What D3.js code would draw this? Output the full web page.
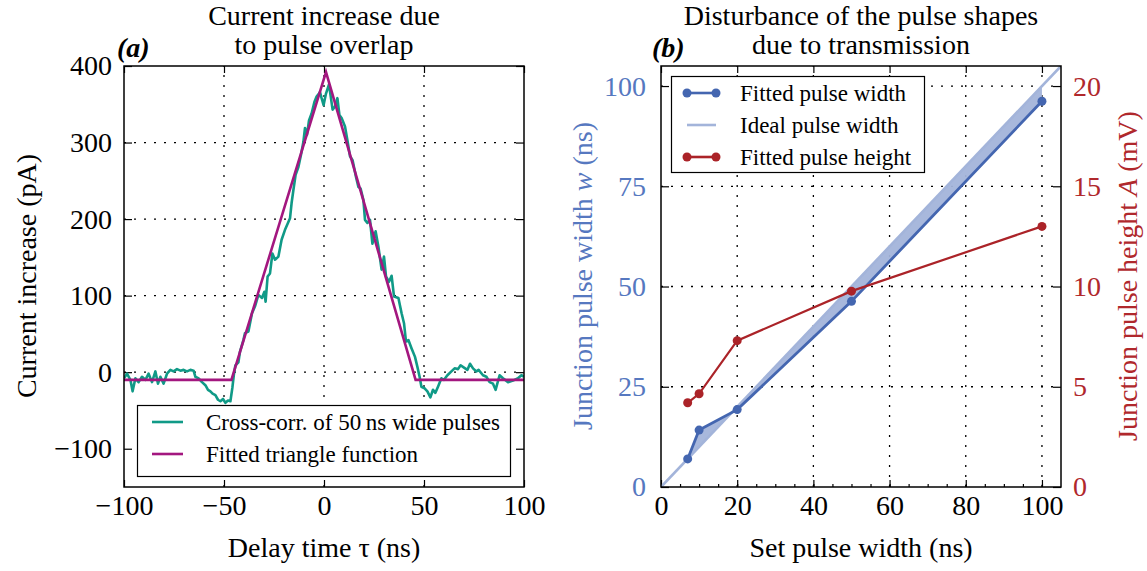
<!DOCTYPE html>
<html>
<head>
<meta charset="utf-8">
<script src="https://cdn.jsdelivr.net/npm/d3@7/dist/d3.min.js"></script>
<style>
  body { margin: 0; background: #fff; }
  svg { display: block; }
  text { font-family: "Liberation Serif", "Times New Roman", serif; }
</style>
</head>
<body>
<svg id="vis"></svg>
<script>
const WIDTH = 1147;
const HEIGHT = 571;
const FONT = 28;      // titles, axis labels, ticks
const LEGFONT = 23;   // legend entries

// panel (a): cross-correlation trace
var tauNs = [-100, -98.5, -96.8, -95.7, -94.3, -92.7, -91, -89.3, -87.7, -86, -84.3, -83, -81.8, -80.2,
    -78.5, -76.8, -75.2, -73.5, -71.8, -70.2, -68.5, -66.8, -65.2, -64.3, -62.7, -61, -59.3, -58, -56.8,
    -55.7, -54.3, -53, -51.8, -50.5, -49.3, -48, -46.8, -45.8, -45, -44.3, -42.8, -42, -40.3, -39.5, -37.8,
    -36, -34.5, -32.8, -31, -29.8, -29.2, -28.2, -27, -25.8, -24.5, -22.8, -21.2, -19.5, -17, -16.2, -15.3,
    -14.2, -12.8, -11.5, -10.3, -9.5, -8.5, -7.5, -6.2, -4.8, -3.7, -2.5, -2, -1.2, -0.2, 1, 2.5, 4.3, 5.5,
    6.7, 7.7, 8.8, 10.5, 11.7, 13, 14.3, 16, 17.2, 18.3, 19.7, 20.5, 21.7, 23, 24.2, 25.8, 27.2, 28.8, 30,
    31, 32.5, 33.8, 35, 37.2, 38.8, 40, 41, 42.2, 43.8, 45.5, 46.7, 47.8, 48.7, 50.3, 51.7, 53.2, 54.5,
    55.7, 57, 58.7, 60, 61.7, 63.7, 65.3, 67, 68.3, 70, 71.7, 73, 74.5, 76.2, 77.3, 79.5, 81.2, 82.8, 84.5,
    85.8, 87.8, 89.5, 92, 94.5, 97, 98.7, 100];
var crossCorr = [-8, -2, -10, -25, -8, -13, -6, -10, -2, -13, 1, -15, -6, -15,
    -2, 3, 1, 4, 2, 3, 1, 3, 2, -6, -8, -13, -17, -23, -25,
    -28, -30, -36, -38, -35, -40, -37, -38, -20, -2, 9, 13, 27, 42, 51, 53,
    77, 86, 101, 97, 105, 92, 125, 129, 155, 147, 151, 173, 186, 201, 221, 238,
    258, 268, 284, 301, 319, 310, 329, 338, 353, 360, 364, 366, 358, 349, 364, 376, 343, 347,
    358, 336, 332, 321, 303, 282, 277, 255, 242, 240, 225, 199, 195, 199, 168, 184, 164, 134, 151,
    125, 118, 126, 99, 97, 77, 64, 40, 42, 31, 20, 7, -6, -19, -21, -25, -33, -23,
    -27, -19, -8, -10, -4, 1, 5, 4, 9, 6, 3, 11, 5, 1, 3, -4, -6, -13, -15,
    -23, -4, -8, -13, -11, -8, -4, -6];

// fitted triangle corners
var triTau = [-100, -46.3, 1, 45.8, 100];
var triCurrent = [-10, -10, 392, -10, -10];

// panel (b)
var setWidth = [7, 10, 20, 50, 100];
var fittedWidth = [7, 14.2, 19.3, 46.3, 96.2];
var fittedHeight = [4.2, 4.65, 7.3, 9.77, 13.0];
var idealWidth = [0, 105];

var aXTicks = [-100, -50, 0, 50, 100];
var aYTicks = [-100, 0, 100, 200, 300, 400];
var bXTicks = [0, 20, 40, 60, 80, 100];
var bYTicks = [0, 25, 50, 75, 100];
var bY2Ticks = [0, 5, 10, 15, 20];

const TEAL = "#109a87";
const MAGENTA = "#a3177f";
const BLUE = "#4466b0";
const LIGHTBLUE = "#a3b4da";
const RED = "#ab2328";
const BLUETEXT = "#5678c0";
const REDTEXT = "#b0282c";

function fmt(d) { return d < 0 ? "\u2212" + Math.abs(d) : String(d); }

let svg = d3.select("#vis").attr("width", WIDTH).attr("height", HEIGHT);

function grid(g, x, y, xs, ys) {
    let x0 = x.range()[0], x1 = x.range()[1], y0 = y.range()[0], y1 = y.range()[1];
    xs.forEach(function(v) {
        g.append("line").attr("x1", x(v)).attr("x2", x(v)).attr("y1", y0).attr("y2", y1)
            .attr("stroke", "#000").attr("stroke-width", 1.3).attr("stroke-dasharray", "2,8");
    });
    ys.forEach(function(v) {
        g.append("line").attr("x1", x0).attr("x2", x1).attr("y1", y(v)).attr("y2", y(v))
            .attr("stroke", "#000").attr("stroke-width", 1.3).attr("stroke-dasharray", "2,8");
    });
}

function styleAxis(g, color) {
    g.select(".domain").remove();
    g.selectAll("line").attr("stroke", "#000").attr("stroke-width", 1.2);
    g.selectAll("text").attr("font-size", FONT).attr("fill", color || "#000")
        .attr("font-family", "Liberation Serif, serif");
}

// ---------- panel (a) ----------
let xa = d3.scaleLinear().domain([-100, 100]).range([124, 524]);
let ya = d3.scaleLinear().domain([-150, 400]).range([487, 66]);
let ga = svg.append("g");

grid(ga, xa, ya, [-50, 0, 50], [0, 100, 200, 300]);

ga.append("g").attr("transform", "translate(0,487)")
    .call(d3.axisBottom(xa).tickValues(aXTicks).tickSize(-7).tickPadding(8).tickFormat(fmt))
    .call(styleAxis);
ga.append("g").attr("transform", "translate(0,66)")
    .call(d3.axisTop(xa).tickValues(aXTicks).tickSize(-7).tickFormat(""))
    .call(styleAxis);
ga.append("g").attr("transform", "translate(124,0)")
    .call(d3.axisLeft(ya).tickValues(aYTicks).tickSize(-8).tickPadding(12).tickFormat(fmt))
    .call(styleAxis);
ga.append("g").attr("transform", "translate(524,0)")
    .call(d3.axisRight(ya).tickValues(aYTicks).tickSize(-8).tickFormat(""))
    .call(styleAxis);

svg.append("clipPath").attr("id", "clipA").append("rect")
    .attr("x", 124).attr("y", 66).attr("width", 400).attr("height", 421);

let traceLine = d3.line().x(function(d, i) { return xa(tauNs[i]); }).y(function(d) { return ya(d); });
ga.append("path").datum(crossCorr).attr("clip-path", "url(#clipA)")
    .attr("d", traceLine).attr("fill", "none").attr("stroke", TEAL).attr("stroke-width", 2.6)
    .attr("stroke-linejoin", "round");
let triLine = d3.line().x(function(d, i) { return xa(triTau[i]); }).y(function(d) { return ya(d); });
ga.append("path").datum(triCurrent).attr("clip-path", "url(#clipA)")
    .attr("d", triLine).attr("fill", "none").attr("stroke", MAGENTA).attr("stroke-width", 2.6);

ga.append("rect").attr("x", 124).attr("y", 66).attr("width", 400).attr("height", 421)
    .attr("fill", "none").attr("stroke", "#000").attr("stroke-width", 1.5);

// legend (a)
let la = ga.append("g");
la.append("rect").attr("x", 137.5).attr("y", 405.5).attr("width", 373).attr("height", 71)
    .attr("fill", "#fff").attr("stroke", "#000").attr("stroke-width", 1.2);
[["Cross-corr. of 50\u2009ns wide pulses", TEAL], ["Fitted triangle function", MAGENTA]].forEach(function(e, i) {
    let yy = 422 + i * 32;
    la.append("line").attr("x1", 152).attr("x2", 183).attr("y1", yy).attr("y2", yy)
        .attr("stroke", e[1]).attr("stroke-width", 2.6);
    la.append("text").attr("x", 206).attr("y", yy + 8).attr("font-size", LEGFONT).text(e[0]);
});

ga.append("text").attr("x", 324).attr("y", 25).attr("text-anchor", "middle").attr("font-size", FONT)
    .text("Current increase due");
ga.append("text").attr("x", 324).attr("y", 54).attr("text-anchor", "middle").attr("font-size", FONT)
    .text("to pulse overlap");
ga.append("text").attr("x", 117).attr("y", 57).attr("font-size", FONT)
    .attr("font-weight", "bold").attr("font-style", "italic").text("(a)");
ga.append("text").attr("x", 324).attr("y", 557).attr("text-anchor", "middle").attr("font-size", FONT)
    .text("Delay time \u03c4 (ns)");
ga.append("text").attr("transform", "translate(36,276) rotate(-90)").attr("text-anchor", "middle")
    .attr("font-size", FONT).text("Current increase (pA)");

// ---------- panel (b) ----------
let xb = d3.scaleLinear().domain([0, 105]).range([661, 1061]);
let yb = d3.scaleLinear().domain([0, 105]).range([487, 66]);
let yb2 = d3.scaleLinear().domain([0, 21]).range([487, 66]);
let gb = svg.append("g");

grid(gb, xb, yb, [20, 40, 60, 80, 100], [25, 50, 75, 100]);

gb.append("g").attr("transform", "translate(0,487)")
    .call(d3.axisBottom(xb).tickValues(bXTicks).tickSize(-7).tickPadding(8))
    .call(styleAxis);
gb.append("g").attr("transform", "translate(0,487)")
    .call(d3.axisBottom(xb).tickValues(d3.range(5, 105, 5)).tickSize(-3).tickFormat(""))
    .call(styleAxis);
gb.append("g").attr("transform", "translate(0,66)")
    .call(d3.axisTop(xb).tickValues(bXTicks).tickSize(-7).tickFormat(""))
    .call(styleAxis);
gb.append("g").attr("transform", "translate(661,0)")
    .call(d3.axisLeft(yb).tickValues(bYTicks).tickSize(-8).tickPadding(15))
    .call(function(g) { styleAxis(g, BLUETEXT); });
gb.append("g").attr("transform", "translate(1061,0)")
    .call(d3.axisRight(yb2).tickValues(bY2Ticks).tickSize(-8).tickPadding(12))
    .call(function(g) { styleAxis(g, REDTEXT); });

svg.append("clipPath").attr("id", "clipB").append("rect")
    .attr("x", 661).attr("y", 66).attr("width", 400).attr("height", 421);
let gc = gb.append("g").attr("clip-path", "url(#clipB)");

// band between fitted and ideal width
let band = setWidth.map(function(d, i) { return [xb(d), yb(fittedWidth[i])]; })
    .concat(setWidth.slice().reverse().map(function(d) { return [xb(d), yb(d)]; }));
gc.append("path").attr("d", "M" + band.join("L") + "Z").attr("fill", LIGHTBLUE).attr("fill-opacity", 0.95)
    .attr("stroke", "none");
gc.append("line").attr("x1", xb(idealWidth[0])).attr("y1", yb(idealWidth[0]))
    .attr("x2", xb(idealWidth[1])).attr("y2", yb(idealWidth[1]))
    .attr("stroke", LIGHTBLUE).attr("stroke-width", 2.6);

let wLine = d3.line().x(function(d, i) { return xb(setWidth[i]); }).y(function(d) { return yb(d); });
gc.append("path").datum(fittedWidth).attr("d", wLine).attr("fill", "none")
    .attr("stroke", BLUE).attr("stroke-width", 2.8);
gc.selectAll("circle.w").data(fittedWidth).enter().append("circle").attr("class", "w")
    .attr("cx", function(d, i) { return xb(setWidth[i]); }).attr("cy", function(d) { return yb(d); })
    .attr("r", 4.5).attr("fill", BLUE);

let hLine = d3.line().x(function(d, i) { return xb(setWidth[i]); }).y(function(d) { return yb2(d); });
gc.append("path").datum(fittedHeight).attr("d", hLine).attr("fill", "none")
    .attr("stroke", RED).attr("stroke-width", 2.2);
gc.selectAll("circle.h").data(fittedHeight).enter().append("circle").attr("class", "h")
    .attr("cx", function(d, i) { return xb(setWidth[i]); }).attr("cy", function(d) { return yb2(d); })
    .attr("r", 4.5).attr("fill", RED);

gb.append("rect").attr("x", 661).attr("y", 66).attr("width", 400).attr("height", 421)
    .attr("fill", "none").attr("stroke", "#000").attr("stroke-width", 1.5);

// legend (b)
let lb = gb.append("g");
lb.append("rect").attr("x", 671.5).attr("y", 76.5).attr("width", 253).attr("height", 96)
    .attr("fill", "#fff").attr("stroke", "#000").attr("stroke-width", 1.2);
[["Fitted pulse width", BLUE, true], ["Ideal pulse width", LIGHTBLUE, false], ["Fitted pulse height", RED, true]]
    .forEach(function(e, i) {
        let yy = 93 + i * 32;
        lb.append("line").attr("x1", 687).attr("x2", 716).attr("y1", yy).attr("y2", yy)
            .attr("stroke", e[1]).attr("stroke-width", 2.6);
        if (e[2]) {
            lb.append("circle").attr("cx", 687).attr("cy", yy).attr("r", 4.5).attr("fill", e[1]);
            lb.append("circle").attr("cx", 716).attr("cy", yy).attr("r", 4.5).attr("fill", e[1]);
        }
        lb.append("text").attr("x", 740).attr("y", yy + 8).attr("font-size", LEGFONT).text(e[0]);
    });

gb.append("text").attr("x", 861).attr("y", 25).attr("text-anchor", "middle").attr("font-size", FONT)
    .text("Disturbance of the pulse shapes");
gb.append("text").attr("x", 861).attr("y", 54).attr("text-anchor", "middle").attr("font-size", FONT)
    .text("due to transmission");
gb.append("text").attr("x", 652).attr("y", 57).attr("font-size", FONT)
    .attr("font-weight", "bold").attr("font-style", "italic").text("(b)");
gb.append("text").attr("x", 861).attr("y", 557).attr("text-anchor", "middle").attr("font-size", FONT)
    .text("Set pulse width (ns)");

let yl = gb.append("text").attr("transform", "translate(592,276) rotate(-90)").attr("text-anchor", "middle")
    .attr("font-size", FONT).attr("fill", BLUETEXT);
yl.append("tspan").text("Junction pulse width ");
yl.append("tspan").attr("font-style", "italic").text("w");
yl.append("tspan").text(" (ns)");

let yr = gb.append("text").attr("transform", "translate(1137,276) rotate(-90)").attr("text-anchor", "middle")
    .attr("font-size", FONT).attr("fill", REDTEXT);
yr.append("tspan").text("Junction pulse height ");
yr.append("tspan").attr("font-style", "italic").text("A");
yr.append("tspan").text(" (mV)");
</script>
</body>
</html>
